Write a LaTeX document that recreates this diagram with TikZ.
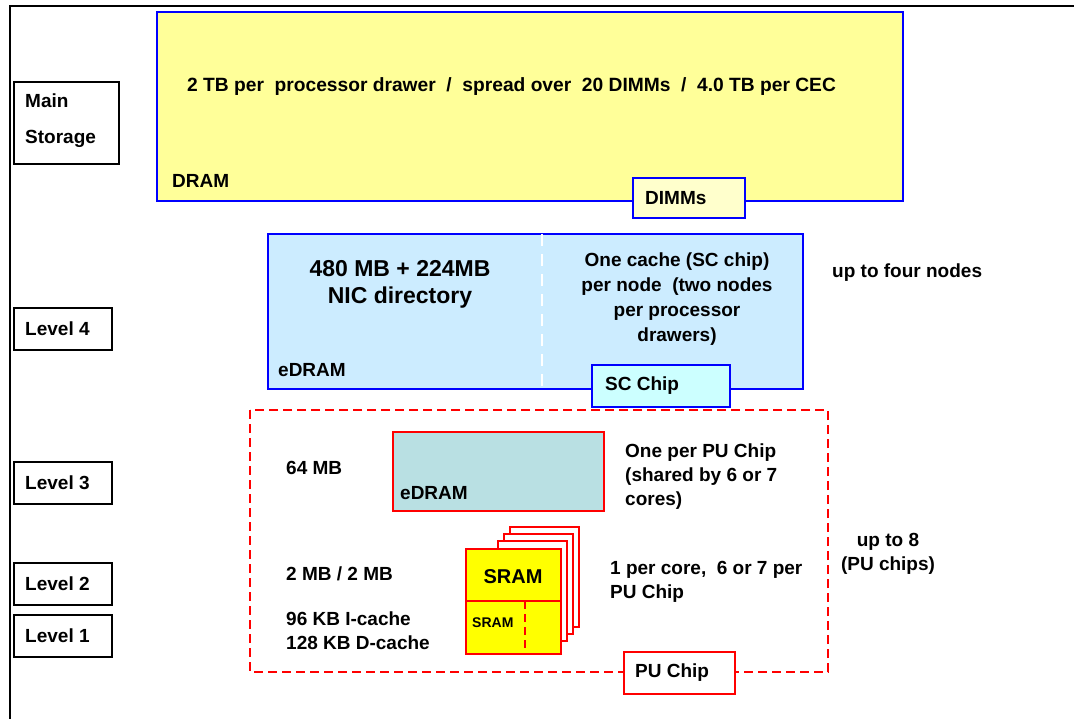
\documentclass[tikz,border=0pt]{standalone}
\usepackage{fontspec}
\setmainfont{Liberation Sans}
\definecolor{dramfill}{HTML}{FFFF99}
\definecolor{dimmfill}{HTML}{FFFFCC}
\definecolor{lfourfill}{HTML}{CCECFF}
\definecolor{scfill}{HTML}{CCFFFF}
\definecolor{lthreefill}{HTML}{B9E0E3}
\definecolor{sramfill}{HTML}{FFFF00}
\begin{document}
\begin{tikzpicture}[x=1pt,y=-1pt,
  txt/.style={font=\fontsize{19}{24}\selectfont\bfseries,inner sep=0pt},
  lbl/.style={draw=black,line width=1.6pt,fill=white},
  bluebox/.style={draw=blue,line width=2pt},
  redbox/.style={draw=red,line width=2pt},
  reddash/.style={draw=red,line width=1.8pt,dash pattern=on 9pt off 5pt}]
\useasboundingbox (0,0) rectangle (1074,719);
\draw[line width=1.5pt] (10,719) -- (10,6) -- (1074,6);
% level labels
\path[lbl] (14,82) rectangle (119,164);
\node[txt,anchor=west,align=left,font=\fontsize{19}{36}\selectfont\bfseries] (mainst) at (25,121) {Main\\Storage};
\path[lbl] (14,308) rectangle (112,350);
\node[txt,anchor=west] (lvfour) at (25,329) {Level 4};
\path[lbl] (14,462) rectangle (112,504);
\node[txt,anchor=west] (lvthree) at (25,483) {Level 3};
\path[lbl] (14,563) rectangle (112,605);
\node[txt,anchor=west] (lvtwo) at (25,584) {Level 2};
\path[lbl] (14,615) rectangle (112,657);
\node[txt,anchor=west] (lvone) at (25,636) {Level 1};
% main storage
\path[bluebox,fill=dramfill] (157,12) rectangle (903,201);
\node[txt,anchor=west,font=\fontsize{19.2}{24}\selectfont\bfseries] (dramsize) at (187,87) {2 TB per~ processor drawer~ /~ spread over~ 20 DIMMs~ /~ 4.0 TB per CEC};
\node[txt,anchor=west] (dram) at (172,181) {DRAM};
\path[bluebox,fill=dimmfill] (633,178) rectangle (745,218);
\node[txt,anchor=west] (dimms) at (645,198) {DIMMs};
% level 4
\path[bluebox,fill=lfourfill] (268,234) rectangle (803,389);
\draw[white,line width=2.5pt,dash pattern=on 12pt off 8pt] (542,234) -- (542,389);
\node[txt,align=center,font=\fontsize{23}{27}\selectfont\bfseries] (lfoursize) at (400,284) {480 MB + 224MB\\NIC directory};
\node[txt,align=center,font=\fontsize{19}{25}\selectfont\bfseries] (lfournote) at (677,299) {One cache (SC chip)\\per node~ (two nodes\\per processor\\drawers)};
\node[txt,anchor=west] (lfouredram) at (278,370) {eDRAM};
\path[bluebox,fill=scfill] (592,365) rectangle (730,407);
\node[txt,anchor=west] (scchip) at (605,386) {SC Chip};
\node[txt,anchor=west] (fournodes) at (832,273) {up to four nodes};
% PU chip
\path[reddash] (250,410) rectangle (828,672);
\path[redbox,fill=lthreefill] (393,432) rectangle (604,511);
\node[txt,anchor=west] (lthreesize) at (286,468) {64 MB};
\node[txt,anchor=west] (lthreeedram) at (400,493) {eDRAM};
\node[txt,anchor=west,align=left] (lthreenote) at (625,477) {One per PU Chip\\(shared by 6 or 7\\cores)};
\path[redbox,fill=white] (510,527) rectangle (579,627);
\path[redbox,fill=white] (504,534) rectangle (573,634);
\path[redbox,fill=white] (498,541) rectangle (567,641);
\path[redbox,fill=sramfill] (466,549) rectangle (561,654);
\draw[red,line width=2pt] (466,601) -- (561,601);
\draw[red,line width=2pt,dash pattern=on 8pt off 5pt] (525,601) -- (525,654);
\node[txt,font=\fontsize{20}{24}\selectfont\bfseries] (ltwosram) at (513,577) {SRAM};
\node[txt,anchor=west,font=\fontsize{14}{16}\selectfont\bfseries] (lonesram) at (472,623) {SRAM};
\node[txt,anchor=west] (ltwosize) at (286,574) {2 MB / 2 MB};
\node[txt,anchor=west,align=left] (lonesize) at (286,631) {96 KB I-cache\\128 KB D-cache};
\node[txt,anchor=west,align=left] (corenote) at (610,582) {1 per core,~ 6 or 7 per\\PU Chip};
\node[txt,align=center] (puchips) at (888,554) {up to 8\\(PU chips)};
\path[redbox,fill=white] (624,652) rectangle (735,694);
\node[txt,anchor=west] (puchip) at (635,673) {PU Chip};
\end{tikzpicture}
\end{document}
